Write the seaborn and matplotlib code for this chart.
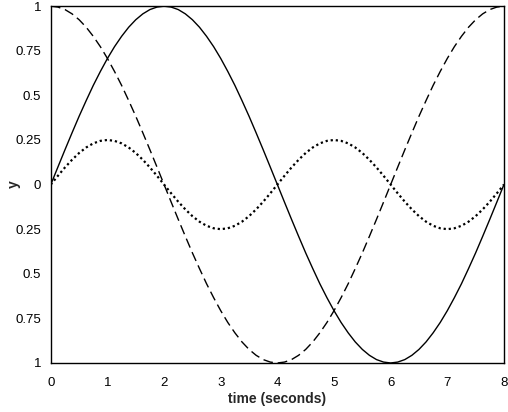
import numpy as np
import pandas as pd
import matplotlib
matplotlib.use("Agg")
import matplotlib.pyplot as plt
import seaborn as sns

# --- data (time step 0.125 s) ---
time_s = [i * 0.125 for i in range(65)]

solid_y = [
    0.000, 0.098, 0.195, 0.290, 0.383, 0.471, 0.556, 0.634, 0.707, 0.773, 0.831, 0.882, 0.924, 0.957, 0.981, 0.995, 1.000,
    0.995, 0.981, 0.957, 0.924, 0.882, 0.831, 0.773, 0.707, 0.634, 0.556, 0.471, 0.383, 0.290, 0.195, 0.098, 0.000,
    -0.098, -0.195, -0.290, -0.383, -0.471, -0.556, -0.634, -0.707, -0.773, -0.831, -0.882, -0.924, -0.957, -0.981, -0.995, -1.000,
    -0.995, -0.981, -0.957, -0.924, -0.882, -0.831, -0.773, -0.707, -0.634, -0.556, -0.471, -0.383, -0.290, -0.195, -0.098, 0.000,
]

dashed_y = [
    1.000, 0.995, 0.981, 0.957, 0.924, 0.882, 0.831, 0.773, 0.707, 0.634, 0.556, 0.471, 0.383, 0.290, 0.195, 0.098, 0.000,
    -0.098, -0.195, -0.290, -0.383, -0.471, -0.556, -0.634, -0.707, -0.773, -0.831, -0.882, -0.924, -0.957, -0.981, -0.995, -1.000,
    -0.995, -0.981, -0.957, -0.924, -0.882, -0.831, -0.773, -0.707, -0.634, -0.556, -0.471, -0.383, -0.290, -0.195, -0.098, 0.000,
    0.098, 0.195, 0.290, 0.383, 0.471, 0.556, 0.634, 0.707, 0.773, 0.831, 0.882, 0.924, 0.957, 0.981, 0.995, 1.000,
]

dotted_y = [
    0.000, 0.049, 0.096, 0.139, 0.177, 0.208, 0.231, 0.245, 0.250, 0.245, 0.231, 0.208, 0.177, 0.139, 0.096, 0.049, 0.000,
    -0.049, -0.096, -0.139, -0.177, -0.208, -0.231, -0.245, -0.250, -0.245, -0.231, -0.208, -0.177, -0.139, -0.096, -0.049, 0.000,
    0.049, 0.096, 0.139, 0.177, 0.208, 0.231, 0.245, 0.250, 0.245, 0.231, 0.208, 0.177, 0.139, 0.096, 0.049, 0.000,
    -0.049, -0.096, -0.139, -0.177, -0.208, -0.231, -0.245, -0.250, -0.245, -0.231, -0.208, -0.177, -0.139, -0.096, -0.049, 0.000,
]

x_ticks = [0, 1, 2, 3, 4, 5, 6, 7, 8]
y_ticks = [1, 0.75, 0.5, 0.25, 0, -0.25, -0.5, -0.75, -1]
y_tick_labels = ["1", "0.75", "0.5", "0.25", "0", "0.25", "0.5", "0.75", "1"]

df = pd.DataFrame({"t": time_s, "solid": solid_y, "dashed": dashed_y, "dotted": dotted_y})

sns.set_style("white")
plt.rcParams["font.family"] = ["Liberation Sans", "DejaVu Sans"]

fig = plt.figure(figsize=(5.08, 4.12), dpi=100)
ax = fig.add_axes([0.100, 0.119, 0.892, 0.866])

sns.lineplot(data=df, x="t", y="solid", ax=ax, color="black", linewidth=1.0)
sns.lineplot(data=df, x="t", y="dashed", ax=ax, color="black", linewidth=1.0,
             linestyle=(0, (7, 3.5)))
sns.lineplot(data=df, x="t", y="dotted", ax=ax, color="black", linewidth=1.6,
             linestyle=(0, (1, 1.3)))

ax.set_xlim(0, 8)
ax.set_ylim(-1, 1)
ax.set_xticks(x_ticks)
ax.set_yticks(y_ticks)
ax.set_yticklabels(y_tick_labels)
ax.tick_params(axis="both", direction="out", length=4, width=1, colors="black",
               labelsize=9.5, pad=3)
ax.tick_params(axis="x", pad=6)
for side in ["left", "right", "top", "bottom"]:
    ax.spines[side].set_visible(True)
    ax.spines[side].set_color("black")
    ax.spines[side].set_linewidth(1.0)

ax.set_xlabel("time (seconds)", fontsize=10, fontweight="bold", labelpad=2)
ax.set_ylabel("y", fontsize=10, fontweight="bold")
ax.yaxis.set_label_coords(-0.065, 0.5)

fig.savefig("out.png", dpi=100)
